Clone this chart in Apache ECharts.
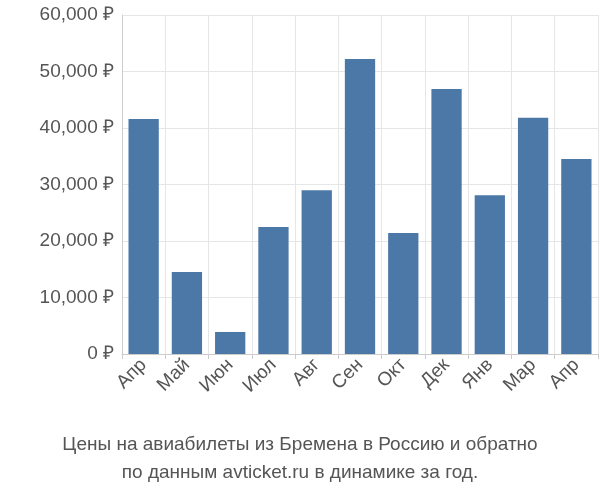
<!DOCTYPE html>
<html>
<head>
<meta charset="utf-8">
<script src="https://cdn.jsdelivr.net/npm/echarts@6/dist/echarts.min.js"></script>
<style>body{margin:0}</style>
</head>
<body>
<div id="chart" style="width:600px;height:500px;"></div>
<script>
var months = ['Апр','Май','Июн','Июл','Авг','Сен','Окт','Дек','Янв','Мар','Апр'];
var prices = [41600, 14500, 3900, 22500, 29000, 52200, 21400, 46900, 28100, 41800, 34500];
var yTicks = [0, 10000, 20000, 30000, 40000, 50000, 60000];

var chart = echarts.init(document.getElementById('chart'));
chart.setOption({
    animation: false,
    title: {
        text: 'Цены на авиабилеты из Бремена в Россию и обратно\nпо данным avticket.ru в динамике за год.',
        left: 'center',
        bottom: 8,
        textStyle: {fontFamily: 'Liberation Sans', fontSize: 19, fontWeight: 'normal', color: '#555', lineHeight: 28}
    },
    grid: {left: 122, right: 2, top: 15, bottom: 146},
    xAxis: {
        type: 'category',
        data: months,
        axisLine: {lineStyle: {color: '#ccc'}},
        axisTick: {show: true, lineStyle: {color: '#ccc'}},
        splitLine: {show: true, lineStyle: {color: '#e6e6e6'}},
        axisLabel: {rotate: 45, fontFamily: 'Liberation Sans', fontSize: 19, color: '#555', interval: 0}
    },
    yAxis: {
        type: 'value',
        min: yTicks[0],
        max: yTicks[yTicks.length - 1],
        interval: 10000,
        axisLine: {show: true, lineStyle: {color: '#ccc'}},
        splitLine: {lineStyle: {color: '#e6e6e6'}},
        axisLabel: {fontFamily: 'Liberation Sans', fontSize: 19, color: '#555', formatter: '{value} ₽'}
    },
    series: [{
        type: 'bar',
        data: prices,
        barWidth: '70%',
        itemStyle: {color: '#4c78a8'}
    }]
});
</script>
</body>
</html>
